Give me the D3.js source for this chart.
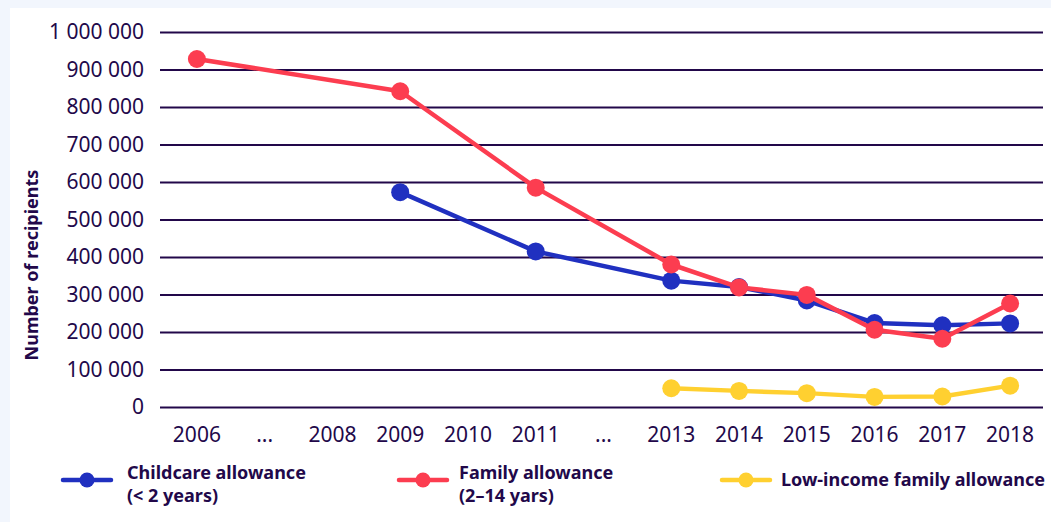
<!DOCTYPE html>
<html>
<head>
<meta charset="utf-8">
<script src="https://cdn.jsdelivr.net/npm/d3@7"></script>
<style>
  html, body { margin: 0; padding: 0; background: #f2f6fd; }
  svg { display: block; font-family: "Noto Sans", "Open Sans", sans-serif; }
</style>
</head>
<body>
<div id="chart"></div>
<script>
// Categories on the x axis (gaps shown as "...")
const years = ["2006", "...1", "2008", "2009", "2010", "2011", "...2", "2013", "2014", "2015", "2016", "2017", "2018"];
const yTicks = [0, 100000, 200000, 300000, 400000, 500000, 600000, 700000, 800000, 900000, 1000000];

// Series values (year -> recipients)
const childcare = [
    ["2009", 573000], ["2011", 415000], ["2013", 337000], ["2014", 320000],
    ["2015", 284000], ["2016", 224000], ["2017", 218000], ["2018", 223000]
];
const family = [
    ["2006", 928000], ["2009", 842000], ["2011", 585000], ["2013", 380000], ["2014", 319000],
    ["2015", 299000], ["2016", 206000], ["2017", 182000], ["2018", 276000]
];
const lowIncome = [
    ["2013", 50000], ["2014", 43000], ["2015", 37000], ["2016", 27000],
    ["2017", 28000], ["2018", 57000]
];

const series = [
    { name: ["Childcare allowance", "(< 2 years)"], data: childcare, color: "#2030c0" },
    { name: ["Family allowance", "(2–14 yars)"], data: family, color: "#fc3d50" },
    { name: ["Low-income family allowance"], data: lowIncome, color: "#ffd030" }
];

const W = 1051, H = 522;
const ink = "#22084a";

const svg = d3.select("#chart").append("svg")
    .attr("width", W)
    .attr("height", H);

// white panel
svg.append("rect")
    .attr("x", 10).attr("y", 8)
    .attr("width", W - 10).attr("height", H - 8)
    .attr("fill", "#ffffff");

const x = d3.scaleBand()
    .domain(years)
    .range([163, 1044])
    .padding(0);

const y = d3.scaleLinear()
    .domain([0, 1000000])
    .range([407, 32]);

const fmt = d3.formatLocale({ decimal: ".", thousands: " ", grouping: [3], currency: ["", ""] }).format(",d");

// gridlines + y labels
const yAxis = svg.append("g")
    .attr("transform", "translate(160,0)")
    .call(d3.axisLeft(y).tickValues(yTicks).tickFormat(fmt).tickSize(-(1043 - 160)).tickPadding(16));
yAxis.select(".domain").remove();
yAxis.selectAll(".tick line").attr("stroke", ink).attr("stroke-width", 2.2);
yAxis.selectAll(".tick text")
    .attr("fill", ink)
    .style("font-size", "21px")
    .style("font-family", "'Noto Sans', 'Open Sans', sans-serif");

// x labels
const xAxis = svg.append("g")
    .attr("transform", "translate(0,407)")
    .call(d3.axisBottom(x).tickSize(0).tickPadding(20).tickFormat(d => d.startsWith("...") ? "..." : d));
xAxis.select(".domain").remove();
xAxis.selectAll(".tick text")
    .attr("fill", ink)
    .style("font-size", "21px")
    .style("font-family", "'Noto Sans', 'Open Sans', sans-serif");

// y axis title
svg.append("text")
    .attr("transform", "translate(38,265) rotate(-90)")
    .attr("text-anchor", "middle")
    .attr("fill", ink)
    .style("font-size", "18px")
    .style("font-weight", "bold")
    .text("Number of recipients");

const cx = d => x(d[0]) + x.bandwidth() / 2;

const line = d3.line()
    .x(cx)
    .y(d => y(d[1]));

series.forEach(s => {
    svg.append("path")
        .datum(s.data)
        .attr("fill", "none")
        .attr("stroke", s.color)
        .attr("stroke-width", 4.5)
        .attr("stroke-linejoin", "round")
        .attr("d", line);

    svg.selectAll(null)
        .data(s.data)
        .enter()
        .append("circle")
        .attr("cx", cx)
        .attr("cy", d => y(d[1]))
        .attr("r", 9)
        .attr("fill", s.color);
});

// legend
const legendX = [63, 399, 722];
const legendTextDx = [64, 60, 59];
series.forEach((s, i) => {
    const g = svg.append("g").attr("transform", `translate(${legendX[i]},480)`);
    g.append("line")
        .attr("x1", 0).attr("x2", 48)
        .attr("stroke", s.color)
        .attr("stroke-width", 4.5)
        .attr("stroke-linecap", "round");
    g.append("circle")
        .attr("cx", 24)
        .attr("r", 7.5)
        .attr("fill", s.color);
    const t = g.append("text")
        .attr("x", legendTextDx[i])
        .attr("fill", ink)
        .style("font-size", "18px")
        .style("font-weight", "bold");
    s.name.forEach((ln, j) => {
        t.append("tspan")
            .attr("x", legendTextDx[i])
            .attr("y", s.name.length > 1 ? -1 + j * 23 : 6)
            .text(ln);
    });
});
</script>
</body>
</html>
